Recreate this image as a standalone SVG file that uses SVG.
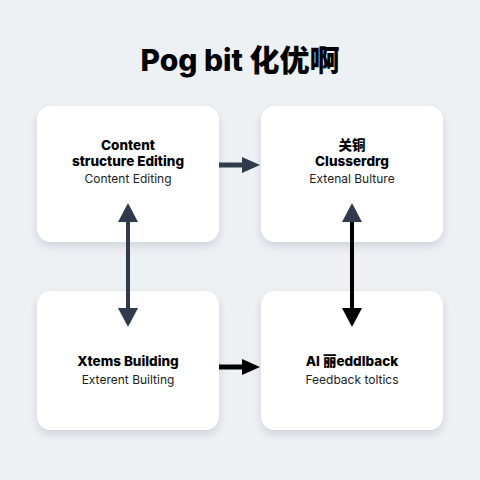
<svg xmlns="http://www.w3.org/2000/svg" width="480" height="480" viewBox="0 0 480 480">
<defs>
<filter id="sh" x="-20%" y="-20%" width="140%" height="150%">
<feDropShadow dx="0" dy="4" stdDeviation="5" flood-color="#8a97a8" flood-opacity="0.35"/>
</filter>
</defs>
<style>
.box{fill:#fff;filter:url(#sh)}
.t{font-family:Inter,"Noto Sans","Noto Sans CJK SC",sans-serif;font-weight:800;font-size:13.5px;fill:#000;text-anchor:middle}
.s{font-family:Inter,"Noto Sans","Noto Sans CJK SC",sans-serif;font-weight:400;font-size:12px;fill:#222;text-anchor:middle}
.title{font-family:Inter,"Noto Sans CJK SC",sans-serif;font-weight:800;font-size:30px;fill:#000;text-anchor:middle}
.dk{fill:#2f3b4d}
.bk{fill:#000}
</style>
<rect width="480" height="480" fill="#eef1f4"/>
<text class="title" x="240" y="71">Pog bit 化优啊</text>
<g id="n1">
<rect class="box" x="37" y="106" width="182" height="136" rx="14"/>
<text class="t" x="128" y="150">Content</text>
<text class="t" x="128" y="166">structure Editing</text>
<text class="s" x="128" y="183">Content Editing</text>
</g>
<g id="n2">
<rect class="box" x="261" y="106" width="182" height="136" rx="14"/>
<text class="t" x="352" y="150">关铜</text>
<text class="t" x="352" y="166">Clusserdrg</text>
<text class="s" x="352" y="183">Extenal Bulture</text>
</g>
<g id="n3">
<rect class="box" x="37" y="291" width="182" height="139" rx="14"/>
<text class="t" x="128" y="366">Xtems Building</text>
<text class="s" x="128" y="384">Exterent Builting</text>
</g>
<g id="n4">
<rect class="box" x="261" y="291" width="182" height="139" rx="14"/>
<text class="t" x="352" y="366">AI 丽eddlback</text>
<text class="s" x="352" y="384">Feedback toltics</text>
</g>
<g id="connectors">
<line x1="219" y1="165" x2="243" y2="165" stroke="#2f3b4d" stroke-width="5"/>
<path class="dk" d="M242,157 L260,165 L242,173 z"/>
<line x1="128" y1="220" x2="128" y2="310" stroke="#2f3b4d" stroke-width="4"/>
<path class="dk" d="M118,222 L128,203 L138,222 z"/>
<path class="dk" d="M118,308 L128,327 L138,308 z"/>
<line x1="352" y1="220" x2="352" y2="310" stroke="#000" stroke-width="4"/>
<path class="dk" d="M342,222 L352,203 L362,222 z"/>
<path class="bk" d="M342,308 L352,327 L362,308 z"/>
<line x1="219" y1="367" x2="243" y2="367" stroke="#000" stroke-width="5"/>
<path class="bk" d="M242,359 L260,367 L242,375 z"/>
</g>
</svg>
